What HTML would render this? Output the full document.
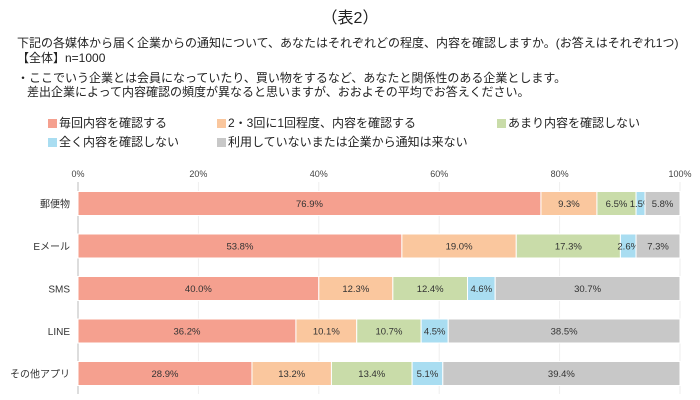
<!DOCTYPE html>
<html><head><meta charset="utf-8"><style>
body{margin:0;width:700px;height:400px;background:#fff;overflow:hidden;font-family:"Liberation Sans","Noto Sans CJK JP",sans-serif;color:#222}
.t{position:absolute;white-space:nowrap;font-size:12px}
.sw{display:inline-block;width:9px;height:9px;margin-right:2px;vertical-align:-1px}
</style></head><body>
<div class="t" style="left:0;width:700px;text-align:center;top:4px;font-size:16px">（表2）</div>
<div class="t" style="left:17px;top:34px">下記の各媒体から届く企業からの通知について、あなたはそれぞれどの程度、内容を確認しますか。(お答えはそれぞれ1つ)</div>
<div class="t" style="left:17px;top:49px">【全体】n=1000</div>
<div class="t" style="left:17px;top:69px">・ここでいう企業とは会員になっていたり、買い物をするなど、あなたと関係性のある企業とします。</div>
<div class="t" style="left:27px;top:83px">差出企業によって内容確認の頻度が異なると思いますが、おおよその平均でお答えください。</div>
<div id="legend"></div>
<svg id="chart" width="700" height="400" style="position:absolute;left:0;top:0"></svg>
<script>
const categories=["郵便物","Eメール","SMS","LINE","その他アプリ"];
const seriesNames=["毎回内容を確認する","2・3回に1回程度、内容を確認する","あまり内容を確認しない","全く内容を確認しない","利用していないまたは企業から通知は来ない"];
const s1=[76.9,53.8,40.0,36.2,28.9];
const s2=[9.3,19.0,12.3,10.1,13.2];
const s3=[6.5,17.3,12.4,10.7,13.4];
const s4=[1.5,2.6,4.6,4.5,5.1];
const s5=[5.8,7.3,30.7,38.5,39.4];
const ticks=[0,20,40,60,80,100];
const colors=["#F5A08F","#FAC79E","#C9DCA9","#A9DDF1","#C8C8C8"];
const series=[s1,s2,s3,s4,s5];
const NS="http://www.w3.org/2000/svg";
const svg=document.getElementById('chart');
const x0=78,x1=680,yTop=182,yBot=394,band=42.5,bh=24,firstC=203.5;
const xs=v=>x0+(x1-x0)*v/100;
const yc=i=>firstC+i*band;
function mk(t,a){const e=document.createElementNS(NS,t);for(const k in a)e.setAttribute(k,a[k]);svg.appendChild(e);return e;}
ticks.forEach(t=>{
 const g=mk('line',{x1:xs(t),x2:xs(t),y1:yTop,y2:yBot,stroke:t===0?'#bbb':'#eee','stroke-width':1});
 
 
 const l=mk('text',{x:xs(t),y:177,'text-anchor':'middle','font-size':9,fill:'#444'});
 l.textContent=t+'%';
 
 
});
categories.forEach((c,i)=>{
 const l=mk('text',{x:70,y:yc(i)+4,'text-anchor':'end','font-size':10,fill:'#333'});
 l.textContent=c;
 
 
 let acc=0;
 series.forEach((s,j)=>{
  const v=s[i];
  const r=mk('rect',{x:xs(acc),y:yc(i)-bh/2,width:xs(acc+v)-xs(acc),height:bh,fill:colors[j],stroke:'#fff','stroke-width':1});
  
  
  const t=mk('text',{x:(xs(acc)+xs(acc+v))/2,y:yc(i)+3.5,'text-anchor':'middle','font-size':9.5,fill:'#333'});
  t.textContent=v.toFixed(1)+'%';
  
  
  acc+=v;
 });
});
const lg=document.getElementById('legend');
const pos=[[48,114],[217,114],[497,114],[48,133],[217,133]];
seriesNames.forEach((n,j)=>{
 const d=document.createElement('div');
 d.className='t';
 d.style.left=pos[j][0]+'px';d.style.top=pos[j][1]+'px';
 d.innerHTML='<span class="sw" style="background:'+colors[j]+'"></span>'+n;
 
 
 lg.appendChild(d);
});
</script>
</body></html>
